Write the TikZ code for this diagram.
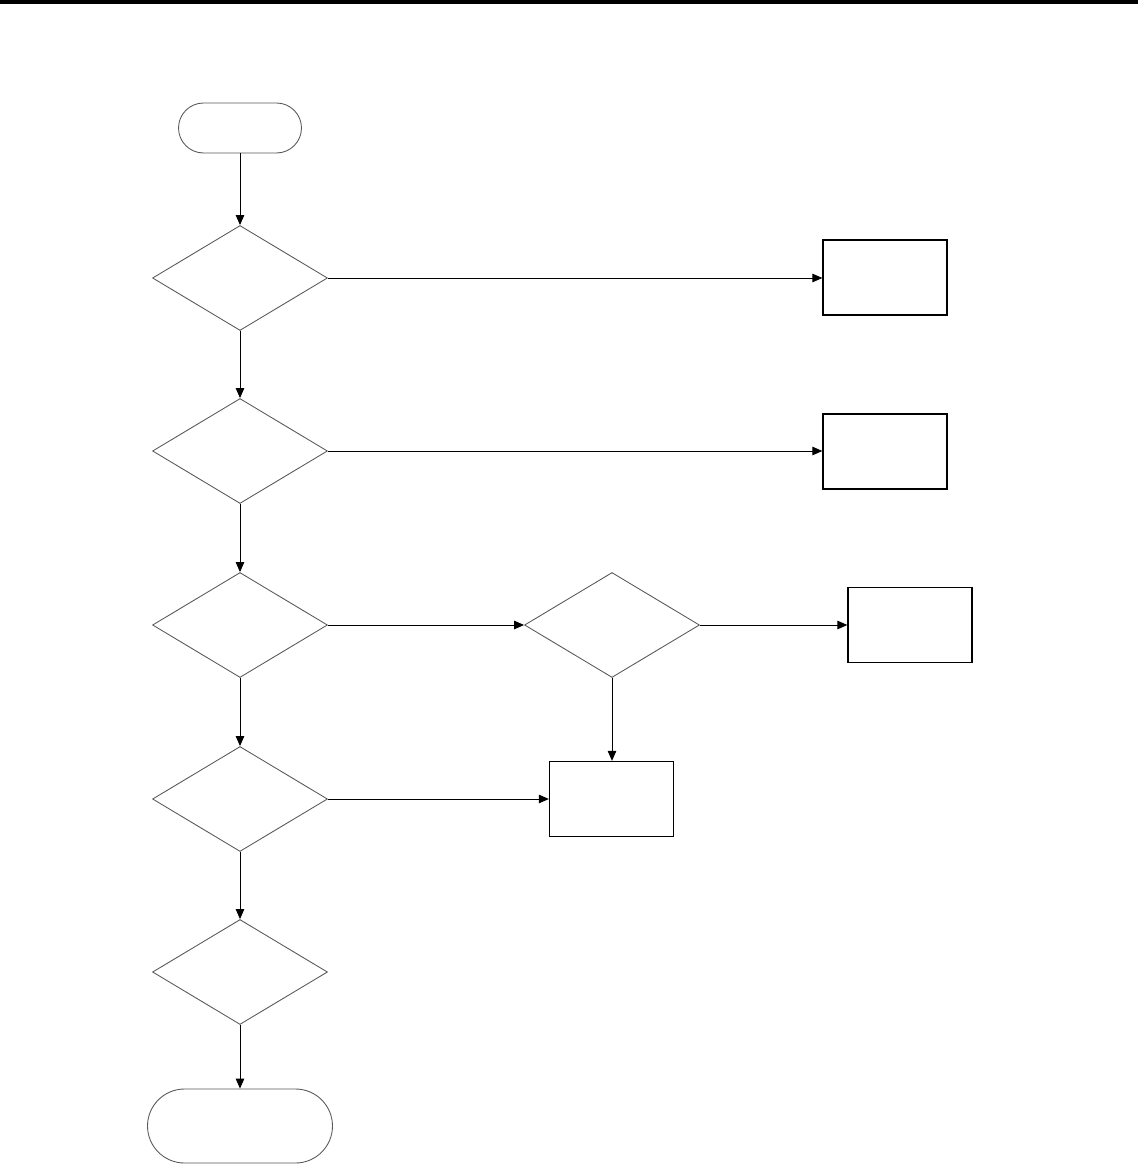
\documentclass[tikz,border=0pt]{standalone}
\usepackage{tikz}
\usetikzlibrary{positioning,arrows.meta,shapes.geometric,shapes.misc}

\begin{document}
\begin{tikzpicture}[x=0.02cm, y=-0.02cm,
  decision/.style={diamond, draw=black!65, line width=0.5pt, inner sep=0pt, aspect=1.667, minimum width=3.5cm, minimum height=2.1cm},
  block/.style={rectangle, draw, line width=0.75pt, inner sep=0pt, minimum width=2.48cm, minimum height=1.5cm},
  terminal/.style={rounded rectangle, draw=black!65, line width=0.5pt, inner sep=0pt},
  flow/.style={-{Triangle[length=0.2cm, width=0.17cm]}, line width=0.55pt}]
\useasboundingbox (0,0) rectangle (1138,1165);
\draw[line width=3pt] (0,1.5) -- (1138,1.5);
\node[terminal, minimum width=2.46cm, minimum height=1cm] (start) at (240,128) {};
\node[decision] (d1) at (240,278) {};
\node[decision] (d2) at (240,451) {};
\node[decision] (d3) at (240,625) {};
\node[decision] (d4) at (240,799) {};
\node[decision] (d5) at (240,972) {};
\node[terminal, minimum width=3.7cm, minimum height=1.48cm] (stop) at (240,1126) {};
\node[decision] (d6) at (612,625) {};
\node[block] (b1) at (885,277.5) {};
\node[block] (b2) at (885,451.5) {};
\node[block] (b3) at (910,625) {};
\node[block] (b4) at (611.5,799) {};
% coluna principal
\draw[flow] (start) -- (d1);
\draw[flow] (d1) -- (d2);
\draw[flow] (d2) -- (d3);
\draw[flow] (d3) -- (d4);
\draw[flow] (d4) -- (d5);
\draw[flow] (d5) -- (stop);
% ramos laterais
\draw[flow] (d1.east) -- (b1.west |- d1.east);
\draw[flow] (d2.east) -- (b2.west |- d2.east);
\draw[flow] (d3) -- (d6);
\draw[flow] (d6) -- (b3);
\draw[flow] (d6.south) -- (b4.north -| d6.south);
\draw[flow] (d4) -- (b4);
\end{tikzpicture}
\end{document}
